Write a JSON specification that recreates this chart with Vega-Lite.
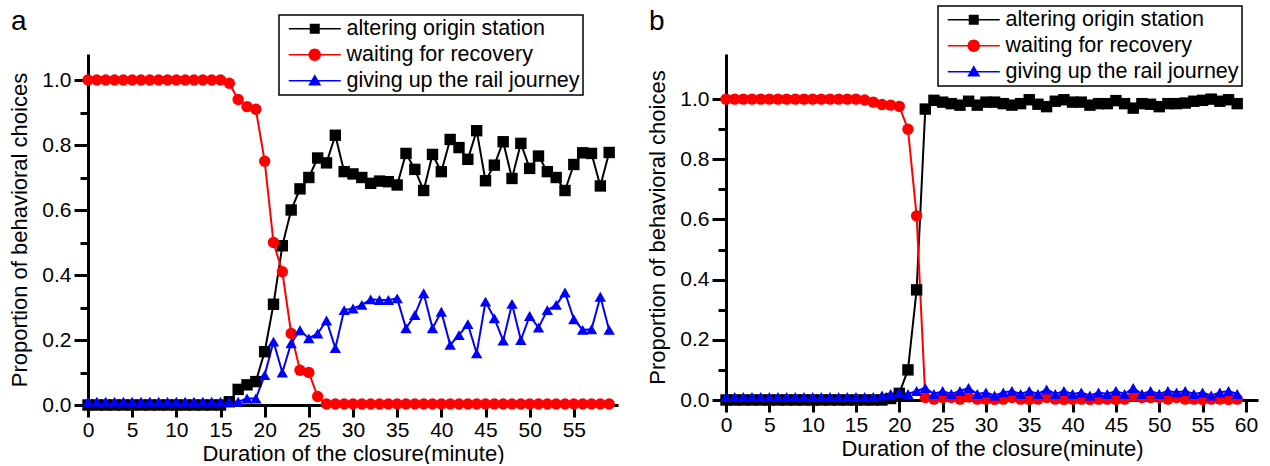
{
"$schema": "https://vega.github.io/schema/vega-lite/v6.json",
"padding": {"left": 8, "top": 5, "right": 5, "bottom": 0},
"background": "white",
"config": {
  "view": {"stroke": null},
  "font": "Liberation Sans",
  "axis": {"grid": false, "domainColor": "black", "domainWidth": 3, "tickColor": "black", "tickWidth": 3, "labelColor": "black", "labelFont": "Liberation Sans", "labelFontSize": 21, "titleFont": "Liberation Sans", "titleFontSize": 22, "titleFontWeight": "normal", "titleColor": "black", "labelFlush": false, "labelOverlap": false},
  "legend": {"orient": "none", "title": null, "labelFont": "Liberation Sans", "labelFontSize": 21.5, "labelColor": "black", "strokeColor": "black", "symbolSize": 400, "padding": 3, "rowPadding": 3, "labelOffset": 21, "symbolOffset": 22, "labelLimit": 400},
  "title": {"font": "Liberation Sans", "fontSize": 28, "fontWeight": "normal", "color": "black", "anchor": "start", "frame": "group"}
},
"datasets": {
"a": [
{"minute":0,"choice":"altering origin station","proportion":0},{"minute":1,"choice":"altering origin station","proportion":0},{"minute":2,"choice":"altering origin station","proportion":0},{"minute":3,"choice":"altering origin station","proportion":0},{"minute":4,"choice":"altering origin station","proportion":0},{"minute":5,"choice":"altering origin station","proportion":0},{"minute":6,"choice":"altering origin station","proportion":0},{"minute":7,"choice":"altering origin station","proportion":0},{"minute":8,"choice":"altering origin station","proportion":0},{"minute":9,"choice":"altering origin station","proportion":0},{"minute":10,"choice":"altering origin station","proportion":0},{"minute":11,"choice":"altering origin station","proportion":0},{"minute":12,"choice":"altering origin station","proportion":0},{"minute":13,"choice":"altering origin station","proportion":0},{"minute":14,"choice":"altering origin station","proportion":0},{"minute":15,"choice":"altering origin station","proportion":0},{"minute":16,"choice":"altering origin station","proportion":0.01},{"minute":17,"choice":"altering origin station","proportion":0.048},{"minute":18,"choice":"altering origin station","proportion":0.062},{"minute":19,"choice":"altering origin station","proportion":0.072},{"minute":20,"choice":"altering origin station","proportion":0.164},{"minute":21,"choice":"altering origin station","proportion":0.31},{"minute":22,"choice":"altering origin station","proportion":0.49},{"minute":23,"choice":"altering origin station","proportion":0.6},{"minute":24,"choice":"altering origin station","proportion":0.665},{"minute":25,"choice":"altering origin station","proportion":0.7},{"minute":26,"choice":"altering origin station","proportion":0.76},{"minute":27,"choice":"altering origin station","proportion":0.745},{"minute":28,"choice":"altering origin station","proportion":0.83},{"minute":29,"choice":"altering origin station","proportion":0.718},{"minute":30,"choice":"altering origin station","proportion":0.711},{"minute":31,"choice":"altering origin station","proportion":0.7},{"minute":32,"choice":"altering origin station","proportion":0.682},{"minute":33,"choice":"altering origin station","proportion":0.689},{"minute":34,"choice":"altering origin station","proportion":0.687},{"minute":35,"choice":"altering origin station","proportion":0.677},{"minute":36,"choice":"altering origin station","proportion":0.774},{"minute":37,"choice":"altering origin station","proportion":0.725},{"minute":38,"choice":"altering origin station","proportion":0.66},{"minute":39,"choice":"altering origin station","proportion":0.771},{"minute":40,"choice":"altering origin station","proportion":0.718},{"minute":41,"choice":"altering origin station","proportion":0.817},{"minute":42,"choice":"altering origin station","proportion":0.792},{"minute":43,"choice":"altering origin station","proportion":0.756},{"minute":44,"choice":"altering origin station","proportion":0.844},{"minute":45,"choice":"altering origin station","proportion":0.69},{"minute":46,"choice":"altering origin station","proportion":0.738},{"minute":47,"choice":"altering origin station","proportion":0.81},{"minute":48,"choice":"altering origin station","proportion":0.697},{"minute":49,"choice":"altering origin station","proportion":0.805},{"minute":50,"choice":"altering origin station","proportion":0.728},{"minute":51,"choice":"altering origin station","proportion":0.766},{"minute":52,"choice":"altering origin station","proportion":0.718},{"minute":53,"choice":"altering origin station","proportion":0.7},{"minute":54,"choice":"altering origin station","proportion":0.66},{"minute":55,"choice":"altering origin station","proportion":0.74},{"minute":56,"choice":"altering origin station","proportion":0.776},{"minute":57,"choice":"altering origin station","proportion":0.774},{"minute":58,"choice":"altering origin station","proportion":0.674},{"minute":59,"choice":"altering origin station","proportion":0.777},
{"minute":0,"choice":"waiting for recovery","proportion":1},{"minute":1,"choice":"waiting for recovery","proportion":1},{"minute":2,"choice":"waiting for recovery","proportion":1},{"minute":3,"choice":"waiting for recovery","proportion":1},{"minute":4,"choice":"waiting for recovery","proportion":1},{"minute":5,"choice":"waiting for recovery","proportion":1},{"minute":6,"choice":"waiting for recovery","proportion":1},{"minute":7,"choice":"waiting for recovery","proportion":1},{"minute":8,"choice":"waiting for recovery","proportion":1},{"minute":9,"choice":"waiting for recovery","proportion":1},{"minute":10,"choice":"waiting for recovery","proportion":1},{"minute":11,"choice":"waiting for recovery","proportion":1},{"minute":12,"choice":"waiting for recovery","proportion":1},{"minute":13,"choice":"waiting for recovery","proportion":1},{"minute":14,"choice":"waiting for recovery","proportion":1},{"minute":15,"choice":"waiting for recovery","proportion":1},{"minute":16,"choice":"waiting for recovery","proportion":0.99},{"minute":17,"choice":"waiting for recovery","proportion":0.94},{"minute":18,"choice":"waiting for recovery","proportion":0.918},{"minute":19,"choice":"waiting for recovery","proportion":0.91},{"minute":20,"choice":"waiting for recovery","proportion":0.75},{"minute":21,"choice":"waiting for recovery","proportion":0.5},{"minute":22,"choice":"waiting for recovery","proportion":0.41},{"minute":23,"choice":"waiting for recovery","proportion":0.22},{"minute":24,"choice":"waiting for recovery","proportion":0.107},{"minute":25,"choice":"waiting for recovery","proportion":0.1},{"minute":26,"choice":"waiting for recovery","proportion":0.026},{"minute":27,"choice":"waiting for recovery","proportion":0.003},{"minute":28,"choice":"waiting for recovery","proportion":0.003},{"minute":29,"choice":"waiting for recovery","proportion":0.003},{"minute":30,"choice":"waiting for recovery","proportion":0.003},{"minute":31,"choice":"waiting for recovery","proportion":0.003},{"minute":32,"choice":"waiting for recovery","proportion":0.003},{"minute":33,"choice":"waiting for recovery","proportion":0.003},{"minute":34,"choice":"waiting for recovery","proportion":0.003},{"minute":35,"choice":"waiting for recovery","proportion":0.003},{"minute":36,"choice":"waiting for recovery","proportion":0.003},{"minute":37,"choice":"waiting for recovery","proportion":0.003},{"minute":38,"choice":"waiting for recovery","proportion":0.003},{"minute":39,"choice":"waiting for recovery","proportion":0.003},{"minute":40,"choice":"waiting for recovery","proportion":0.003},{"minute":41,"choice":"waiting for recovery","proportion":0.003},{"minute":42,"choice":"waiting for recovery","proportion":0.003},{"minute":43,"choice":"waiting for recovery","proportion":0.003},{"minute":44,"choice":"waiting for recovery","proportion":0.003},{"minute":45,"choice":"waiting for recovery","proportion":0.003},{"minute":46,"choice":"waiting for recovery","proportion":0.003},{"minute":47,"choice":"waiting for recovery","proportion":0.003},{"minute":48,"choice":"waiting for recovery","proportion":0.003},{"minute":49,"choice":"waiting for recovery","proportion":0.003},{"minute":50,"choice":"waiting for recovery","proportion":0.003},{"minute":51,"choice":"waiting for recovery","proportion":0.003},{"minute":52,"choice":"waiting for recovery","proportion":0.003},{"minute":53,"choice":"waiting for recovery","proportion":0.003},{"minute":54,"choice":"waiting for recovery","proportion":0.003},{"minute":55,"choice":"waiting for recovery","proportion":0.003},{"minute":56,"choice":"waiting for recovery","proportion":0.003},{"minute":57,"choice":"waiting for recovery","proportion":0.003},{"minute":58,"choice":"waiting for recovery","proportion":0.003},{"minute":59,"choice":"waiting for recovery","proportion":0.003},
{"minute":0,"choice":"giving up the rail journey","proportion":0.01},{"minute":1,"choice":"giving up the rail journey","proportion":0.01},{"minute":2,"choice":"giving up the rail journey","proportion":0.01},{"minute":3,"choice":"giving up the rail journey","proportion":0.01},{"minute":4,"choice":"giving up the rail journey","proportion":0.01},{"minute":5,"choice":"giving up the rail journey","proportion":0.01},{"minute":6,"choice":"giving up the rail journey","proportion":0.01},{"minute":7,"choice":"giving up the rail journey","proportion":0.01},{"minute":8,"choice":"giving up the rail journey","proportion":0.01},{"minute":9,"choice":"giving up the rail journey","proportion":0.01},{"minute":10,"choice":"giving up the rail journey","proportion":0.01},{"minute":11,"choice":"giving up the rail journey","proportion":0.01},{"minute":12,"choice":"giving up the rail journey","proportion":0.01},{"minute":13,"choice":"giving up the rail journey","proportion":0.01},{"minute":14,"choice":"giving up the rail journey","proportion":0.01},{"minute":15,"choice":"giving up the rail journey","proportion":0.01},{"minute":16,"choice":"giving up the rail journey","proportion":0.01},{"minute":17,"choice":"giving up the rail journey","proportion":0.01},{"minute":18,"choice":"giving up the rail journey","proportion":0.02},{"minute":19,"choice":"giving up the rail journey","proportion":0.02},{"minute":20,"choice":"giving up the rail journey","proportion":0.092},{"minute":21,"choice":"giving up the rail journey","proportion":0.195},{"minute":22,"choice":"giving up the rail journey","proportion":0.1},{"minute":23,"choice":"giving up the rail journey","proportion":0.19},{"minute":24,"choice":"giving up the rail journey","proportion":0.23},{"minute":25,"choice":"giving up the rail journey","proportion":0.205},{"minute":26,"choice":"giving up the rail journey","proportion":0.22},{"minute":27,"choice":"giving up the rail journey","proportion":0.26},{"minute":28,"choice":"giving up the rail journey","proportion":0.175},{"minute":29,"choice":"giving up the rail journey","proportion":0.292},{"minute":30,"choice":"giving up the rail journey","proportion":0.297},{"minute":31,"choice":"giving up the rail journey","proportion":0.308},{"minute":32,"choice":"giving up the rail journey","proportion":0.325},{"minute":33,"choice":"giving up the rail journey","proportion":0.323},{"minute":34,"choice":"giving up the rail journey","proportion":0.323},{"minute":35,"choice":"giving up the rail journey","proportion":0.328},{"minute":36,"choice":"giving up the rail journey","proportion":0.236},{"minute":37,"choice":"giving up the rail journey","proportion":0.277},{"minute":38,"choice":"giving up the rail journey","proportion":0.344},{"minute":39,"choice":"giving up the rail journey","proportion":0.236},{"minute":40,"choice":"giving up the rail journey","proportion":0.287},{"minute":41,"choice":"giving up the rail journey","proportion":0.185},{"minute":42,"choice":"giving up the rail journey","proportion":0.215},{"minute":43,"choice":"giving up the rail journey","proportion":0.249},{"minute":44,"choice":"giving up the rail journey","proportion":0.159},{"minute":45,"choice":"giving up the rail journey","proportion":0.318},{"minute":46,"choice":"giving up the rail journey","proportion":0.267},{"minute":47,"choice":"giving up the rail journey","proportion":0.198},{"minute":48,"choice":"giving up the rail journey","proportion":0.311},{"minute":49,"choice":"giving up the rail journey","proportion":0.2},{"minute":50,"choice":"giving up the rail journey","proportion":0.274},{"minute":51,"choice":"giving up the rail journey","proportion":0.238},{"minute":52,"choice":"giving up the rail journey","proportion":0.292},{"minute":53,"choice":"giving up the rail journey","proportion":0.308},{"minute":54,"choice":"giving up the rail journey","proportion":0.346},{"minute":55,"choice":"giving up the rail journey","proportion":0.264},{"minute":56,"choice":"giving up the rail journey","proportion":0.231},{"minute":57,"choice":"giving up the rail journey","proportion":0.233},{"minute":58,"choice":"giving up the rail journey","proportion":0.333},{"minute":59,"choice":"giving up the rail journey","proportion":0.231}
],
"b": [
{"minute":0,"choice":"altering origin station","proportion":0},{"minute":1,"choice":"altering origin station","proportion":0},{"minute":2,"choice":"altering origin station","proportion":0},{"minute":3,"choice":"altering origin station","proportion":0},{"minute":4,"choice":"altering origin station","proportion":0},{"minute":5,"choice":"altering origin station","proportion":0},{"minute":6,"choice":"altering origin station","proportion":0},{"minute":7,"choice":"altering origin station","proportion":0},{"minute":8,"choice":"altering origin station","proportion":0},{"minute":9,"choice":"altering origin station","proportion":0},{"minute":10,"choice":"altering origin station","proportion":0},{"minute":11,"choice":"altering origin station","proportion":0},{"minute":12,"choice":"altering origin station","proportion":0},{"minute":13,"choice":"altering origin station","proportion":0},{"minute":14,"choice":"altering origin station","proportion":0},{"minute":15,"choice":"altering origin station","proportion":0},{"minute":16,"choice":"altering origin station","proportion":0},{"minute":17,"choice":"altering origin station","proportion":0},{"minute":18,"choice":"altering origin station","proportion":0},{"minute":19,"choice":"altering origin station","proportion":0.005},{"minute":20,"choice":"altering origin station","proportion":0.022},{"minute":21,"choice":"altering origin station","proportion":0.1},{"minute":22,"choice":"altering origin station","proportion":0.366},{"minute":23,"choice":"altering origin station","proportion":0.967},{"minute":24,"choice":"altering origin station","proportion":0.996},{"minute":25,"choice":"altering origin station","proportion":0.99},{"minute":26,"choice":"altering origin station","proportion":0.985},{"minute":27,"choice":"altering origin station","proportion":0.98},{"minute":28,"choice":"altering origin station","proportion":0.993},{"minute":29,"choice":"altering origin station","proportion":0.98},{"minute":30,"choice":"altering origin station","proportion":0.99},{"minute":31,"choice":"altering origin station","proportion":0.99},{"minute":32,"choice":"altering origin station","proportion":0.985},{"minute":33,"choice":"altering origin station","proportion":0.98},{"minute":34,"choice":"altering origin station","proportion":0.985},{"minute":35,"choice":"altering origin station","proportion":0.998},{"minute":36,"choice":"altering origin station","proportion":0.983},{"minute":37,"choice":"altering origin station","proportion":0.975},{"minute":38,"choice":"altering origin station","proportion":0.993},{"minute":39,"choice":"altering origin station","proportion":0.998},{"minute":40,"choice":"altering origin station","proportion":0.99},{"minute":41,"choice":"altering origin station","proportion":0.99},{"minute":42,"choice":"altering origin station","proportion":0.98},{"minute":43,"choice":"altering origin station","proportion":0.985},{"minute":44,"choice":"altering origin station","proportion":0.985},{"minute":45,"choice":"altering origin station","proportion":0.995},{"minute":46,"choice":"altering origin station","proportion":0.985},{"minute":47,"choice":"altering origin station","proportion":0.97},{"minute":48,"choice":"altering origin station","proportion":0.985},{"minute":49,"choice":"altering origin station","proportion":0.983},{"minute":50,"choice":"altering origin station","proportion":0.975},{"minute":51,"choice":"altering origin station","proportion":0.985},{"minute":52,"choice":"altering origin station","proportion":0.985},{"minute":53,"choice":"altering origin station","proportion":0.987},{"minute":54,"choice":"altering origin station","proportion":0.993},{"minute":55,"choice":"altering origin station","proportion":0.996},{"minute":56,"choice":"altering origin station","proportion":1.0},{"minute":57,"choice":"altering origin station","proportion":0.993},{"minute":58,"choice":"altering origin station","proportion":0.998},{"minute":59,"choice":"altering origin station","proportion":0.985},
{"minute":0,"choice":"waiting for recovery","proportion":1},{"minute":1,"choice":"waiting for recovery","proportion":1},{"minute":2,"choice":"waiting for recovery","proportion":1},{"minute":3,"choice":"waiting for recovery","proportion":1},{"minute":4,"choice":"waiting for recovery","proportion":1},{"minute":5,"choice":"waiting for recovery","proportion":1},{"minute":6,"choice":"waiting for recovery","proportion":1},{"minute":7,"choice":"waiting for recovery","proportion":1},{"minute":8,"choice":"waiting for recovery","proportion":1},{"minute":9,"choice":"waiting for recovery","proportion":1},{"minute":10,"choice":"waiting for recovery","proportion":1},{"minute":11,"choice":"waiting for recovery","proportion":1},{"minute":12,"choice":"waiting for recovery","proportion":1},{"minute":13,"choice":"waiting for recovery","proportion":1},{"minute":14,"choice":"waiting for recovery","proportion":1},{"minute":15,"choice":"waiting for recovery","proportion":1},{"minute":16,"choice":"waiting for recovery","proportion":0.997},{"minute":17,"choice":"waiting for recovery","proportion":0.99},{"minute":18,"choice":"waiting for recovery","proportion":0.982},{"minute":19,"choice":"waiting for recovery","proportion":0.98},{"minute":20,"choice":"waiting for recovery","proportion":0.976},{"minute":21,"choice":"waiting for recovery","proportion":0.9},{"minute":22,"choice":"waiting for recovery","proportion":0.612},{"minute":23,"choice":"waiting for recovery","proportion":0.008},{"minute":24,"choice":"waiting for recovery","proportion":0.003},{"minute":25,"choice":"waiting for recovery","proportion":0.008},{"minute":26,"choice":"waiting for recovery","proportion":0.008},{"minute":27,"choice":"waiting for recovery","proportion":0.003},{"minute":28,"choice":"waiting for recovery","proportion":0.01},{"minute":29,"choice":"waiting for recovery","proportion":0.003},{"minute":30,"choice":"waiting for recovery","proportion":0.003},{"minute":31,"choice":"waiting for recovery","proportion":0.002},{"minute":32,"choice":"waiting for recovery","proportion":0.003},{"minute":33,"choice":"waiting for recovery","proportion":0.008},{"minute":34,"choice":"waiting for recovery","proportion":0.003},{"minute":35,"choice":"waiting for recovery","proportion":0.002},{"minute":36,"choice":"waiting for recovery","proportion":0.003},{"minute":37,"choice":"waiting for recovery","proportion":0.008},{"minute":38,"choice":"waiting for recovery","proportion":0.003},{"minute":39,"choice":"waiting for recovery","proportion":0.002},{"minute":40,"choice":"waiting for recovery","proportion":0.003},{"minute":41,"choice":"waiting for recovery","proportion":0.003},{"minute":42,"choice":"waiting for recovery","proportion":0.002},{"minute":43,"choice":"waiting for recovery","proportion":0.003},{"minute":44,"choice":"waiting for recovery","proportion":0.003},{"minute":45,"choice":"waiting for recovery","proportion":0.002},{"minute":46,"choice":"waiting for recovery","proportion":0.003},{"minute":47,"choice":"waiting for recovery","proportion":0.012},{"minute":48,"choice":"waiting for recovery","proportion":0.008},{"minute":49,"choice":"waiting for recovery","proportion":0.008},{"minute":50,"choice":"waiting for recovery","proportion":0.008},{"minute":51,"choice":"waiting for recovery","proportion":0.003},{"minute":52,"choice":"waiting for recovery","proportion":0.008},{"minute":53,"choice":"waiting for recovery","proportion":0.003},{"minute":54,"choice":"waiting for recovery","proportion":0.003},{"minute":55,"choice":"waiting for recovery","proportion":0.002},{"minute":56,"choice":"waiting for recovery","proportion":0.003},{"minute":57,"choice":"waiting for recovery","proportion":0.003},{"minute":58,"choice":"waiting for recovery","proportion":0.002},{"minute":59,"choice":"waiting for recovery","proportion":0.003},
{"minute":0,"choice":"giving up the rail journey","proportion":0.01},{"minute":1,"choice":"giving up the rail journey","proportion":0.01},{"minute":2,"choice":"giving up the rail journey","proportion":0.01},{"minute":3,"choice":"giving up the rail journey","proportion":0.01},{"minute":4,"choice":"giving up the rail journey","proportion":0.01},{"minute":5,"choice":"giving up the rail journey","proportion":0.01},{"minute":6,"choice":"giving up the rail journey","proportion":0.01},{"minute":7,"choice":"giving up the rail journey","proportion":0.01},{"minute":8,"choice":"giving up the rail journey","proportion":0.01},{"minute":9,"choice":"giving up the rail journey","proportion":0.01},{"minute":10,"choice":"giving up the rail journey","proportion":0.01},{"minute":11,"choice":"giving up the rail journey","proportion":0.01},{"minute":12,"choice":"giving up the rail journey","proportion":0.01},{"minute":13,"choice":"giving up the rail journey","proportion":0.01},{"minute":14,"choice":"giving up the rail journey","proportion":0.01},{"minute":15,"choice":"giving up the rail journey","proportion":0.01},{"minute":16,"choice":"giving up the rail journey","proportion":0.01},{"minute":17,"choice":"giving up the rail journey","proportion":0.01},{"minute":18,"choice":"giving up the rail journey","proportion":0.015},{"minute":19,"choice":"giving up the rail journey","proportion":0.02},{"minute":20,"choice":"giving up the rail journey","proportion":0.025},{"minute":21,"choice":"giving up the rail journey","proportion":0.02},{"minute":22,"choice":"giving up the rail journey","proportion":0.03},{"minute":23,"choice":"giving up the rail journey","proportion":0.04},{"minute":24,"choice":"giving up the rail journey","proportion":0.02},{"minute":25,"choice":"giving up the rail journey","proportion":0.03},{"minute":26,"choice":"giving up the rail journey","proportion":0.02},{"minute":27,"choice":"giving up the rail journey","proportion":0.03},{"minute":28,"choice":"giving up the rail journey","proportion":0.04},{"minute":29,"choice":"giving up the rail journey","proportion":0.02},{"minute":30,"choice":"giving up the rail journey","proportion":0.025},{"minute":31,"choice":"giving up the rail journey","proportion":0.015},{"minute":32,"choice":"giving up the rail journey","proportion":0.025},{"minute":33,"choice":"giving up the rail journey","proportion":0.03},{"minute":34,"choice":"giving up the rail journey","proportion":0.02},{"minute":35,"choice":"giving up the rail journey","proportion":0.03},{"minute":36,"choice":"giving up the rail journey","proportion":0.02},{"minute":37,"choice":"giving up the rail journey","proportion":0.035},{"minute":38,"choice":"giving up the rail journey","proportion":0.02},{"minute":39,"choice":"giving up the rail journey","proportion":0.03},{"minute":40,"choice":"giving up the rail journey","proportion":0.02},{"minute":41,"choice":"giving up the rail journey","proportion":0.025},{"minute":42,"choice":"giving up the rail journey","proportion":0.015},{"minute":43,"choice":"giving up the rail journey","proportion":0.025},{"minute":44,"choice":"giving up the rail journey","proportion":0.02},{"minute":45,"choice":"giving up the rail journey","proportion":0.03},{"minute":46,"choice":"giving up the rail journey","proportion":0.02},{"minute":47,"choice":"giving up the rail journey","proportion":0.04},{"minute":48,"choice":"giving up the rail journey","proportion":0.02},{"minute":49,"choice":"giving up the rail journey","proportion":0.03},{"minute":50,"choice":"giving up the rail journey","proportion":0.02},{"minute":51,"choice":"giving up the rail journey","proportion":0.03},{"minute":52,"choice":"giving up the rail journey","proportion":0.025},{"minute":53,"choice":"giving up the rail journey","proportion":0.03},{"minute":54,"choice":"giving up the rail journey","proportion":0.02},{"minute":55,"choice":"giving up the rail journey","proportion":0.025},{"minute":56,"choice":"giving up the rail journey","proportion":0.015},{"minute":57,"choice":"giving up the rail journey","proportion":0.025},{"minute":58,"choice":"giving up the rail journey","proportion":0.03},{"minute":59,"choice":"giving up the rail journey","proportion":0.02}
]
},
"spacing": 28,
"resolve": {"scale": {"color": "independent", "shape": "independent", "x": "independent", "y": "independent"}, "legend": {"color": "independent", "shape": "independent"}},
"hconcat": [
{
  "title": {"text": "a", "dx": -77, "offset": -22},
  "width": 530, "height": 351,
  "data": {"name": "a"},
  "resolve": {"scale": {"shape": "independent"}, "legend": {"shape": "independent"}},
  "encoding": {
    "x": {"field": "minute", "type": "quantitative", "scale": {"domain": [0, 60], "nice": false, "zero": false}, "axis": {"title": "Duration of the closure(minute)", "values": [0,5,10,15,20,25,30,35,40,45,50,55], "tickSize": 12, "labelPadding": 2, "titlePadding": 3}},
    "y": {"field": "proportion", "type": "quantitative", "scale": {"domain": [0, 1.08], "nice": false}, "axis": {"title": "Proportion of behavioral choices", "values": [0,0.1,0.2,0.3,0.4,0.5,0.6,0.7,0.8,0.9,1.0], "labelExpr": "round(datum.value*10)%2==0 ? format(datum.value,'.1f') : ''", "tickSize": {"condition": {"test": "round(datum.value*10)%2==1", "value": 8}, "value": 14}, "labelPadding": 3, "titlePadding": 10}},
    "color": {"field": "choice", "type": "nominal", "sort": null, "scale": {"domain": ["altering origin station", "waiting for recovery", "giving up the rail journey"], "range": ["#000000", "#ff0000", "#0000ff"]}, "legend": {"legendX": 191, "legendY": -39, "encode": {"legend": {"update": {"strokeWidth": {"value": 1.5}}}, "symbols": {"update": {"shape": {"signal": "datum.value === 'altering origin station' ? 'M-2.6,-0.08H2.6V0.08H-2.6Z M-0.5,-0.5H0.5V0.5H-0.5Z' : datum.value === 'waiting for recovery' ? 'M-2.6,-0.08H2.6V0.08H-2.6Z M-0.62,0A0.62,0.62,0,1,1,0.62,0A0.62,0.62,0,1,1,-0.62,0Z' : 'M-2.6,-0.08H2.6V0.08H-2.6Z M0,-0.65L0.65,0.48L-0.65,0.48Z'"}, "fill": {"signal": "datum.value === 'altering origin station' ? '#000000' : datum.value === 'waiting for recovery' ? '#ff0000' : '#0000ff'"}, "strokeWidth": {"value": 0}}}}}}
  },
  "layer": [
    {"mark": {"type": "line", "strokeWidth": 2}},
    {"mark": {"type": "point", "filled": true, "opacity": 1, "size": 130}, "encoding": {"shape": {"field": "choice", "type": "nominal", "sort": null, "scale": {"domain": ["altering origin station", "waiting for recovery", "giving up the rail journey"], "range": ["square", "circle", "triangle-up"]}, "legend": null}}}
  ]
},
{
  "title": {"text": "b", "dx": -77, "offset": -31},
  "width": 532, "height": 346,
  "data": {"name": "b"},
  "resolve": {"scale": {"shape": "independent"}, "legend": {"shape": "independent"}},
  "encoding": {
    "x": {"field": "minute", "type": "quantitative", "scale": {"domain": [0, 61.4], "nice": false, "zero": false}, "axis": {"title": "Duration of the closure(minute)", "values": [0,5,10,15,20,25,30,35,40,45,50,55,60], "tickSize": 12, "labelPadding": 2, "titlePadding": 3}},
    "y": {"field": "proportion", "type": "quantitative", "scale": {"domain": [0, 1.15], "nice": false}, "axis": {"title": "Proportion of behavioral choices", "values": [0,0.1,0.2,0.3,0.4,0.5,0.6,0.7,0.8,0.9,1.0], "labelExpr": "round(datum.value*10)%2==0 ? format(datum.value,'.1f') : ''", "tickSize": {"condition": {"test": "round(datum.value*10)%2==1", "value": 8}, "value": 14}, "labelPadding": 3, "titlePadding": 10}},
    "color": {"field": "choice", "type": "nominal", "sort": null, "scale": {"domain": ["altering origin station", "waiting for recovery", "giving up the rail journey"], "range": ["#000000", "#ff0000", "#0000ff"]}, "legend": {"legendX": 212, "legendY": -48, "encode": {"legend": {"update": {"strokeWidth": {"value": 1.5}}}, "symbols": {"update": {"shape": {"signal": "datum.value === 'altering origin station' ? 'M-2.6,-0.08H2.6V0.08H-2.6Z M-0.5,-0.5H0.5V0.5H-0.5Z' : datum.value === 'waiting for recovery' ? 'M-2.6,-0.08H2.6V0.08H-2.6Z M-0.62,0A0.62,0.62,0,1,1,0.62,0A0.62,0.62,0,1,1,-0.62,0Z' : 'M-2.6,-0.08H2.6V0.08H-2.6Z M0,-0.65L0.65,0.48L-0.65,0.48Z'"}, "fill": {"signal": "datum.value === 'altering origin station' ? '#000000' : datum.value === 'waiting for recovery' ? '#ff0000' : '#0000ff'"}, "strokeWidth": {"value": 0}}}}}}
  },
  "layer": [
    {"mark": {"type": "line", "strokeWidth": 2}},
    {"mark": {"type": "point", "filled": true, "opacity": 1, "size": 130}, "encoding": {"shape": {"field": "choice", "type": "nominal", "sort": null, "scale": {"domain": ["altering origin station", "waiting for recovery", "giving up the rail journey"], "range": ["square", "circle", "triangle-up"]}, "legend": null}}}
  ]
}
]
}
